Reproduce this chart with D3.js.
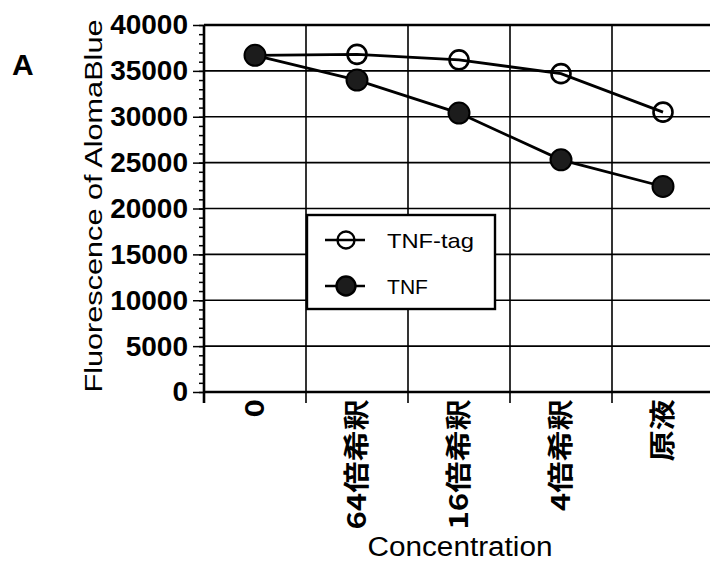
<!DOCTYPE html>
<html>
<head>
<meta charset="utf-8">
<script src="https://cdn.jsdelivr.net/npm/d3@7"></script>
<style>
  body { margin: 0; background: #fff; }
  svg { display: block; }
  text { font-family: "Liberation Sans", Arial, sans-serif; fill: #000; }
  .cjk { font-family: "Noto Sans CJK JP", sans-serif; }
</style>
</head>
<body>
<div class="chart"></div>
<script>
// Fluorescence of AlomaBlue vs concentration, two series
var categories = ["0", "64倍希釈", "16倍希釈", "4倍希釈", "原液"];
var tnfTag = [36700, 36800, 36200, 34700, 30500];
var tnf = [36700, 34000, 30400, 25300, 22400];
var yTicks = [0, 5000, 10000, 15000, 20000, 25000, 30000, 35000, 40000];
var seriesNames = ["TNF-tag", "TNF"];

var svgWidth = 710;
var svgHeight = 563;
var margin = { top: 25, left: 204 };
var width = 510;
var height = 367;

var svg = d3.select(".chart").append("svg")
  .attr("width", svgWidth)
  .attr("height", svgHeight);

var chart = svg.append("g")
  .attr("transform", "translate(" + margin.left + "," + margin.top + ")");

var xScale = d3.scaleBand().domain(categories).range([0, width]).padding(0);
var yScale = d3.scaleLinear().domain([0, 40000]).range([height, 0]);

// horizontal gridlines
chart.selectAll(".hgrid").data(yTicks).enter().append("line")
  .attr("x1", 0).attr("x2", width)
  .attr("y1", function(d) { return yScale(d); })
  .attr("y2", function(d) { return yScale(d); })
  .attr("stroke", "#000")
  .attr("stroke-width", function(d) { return d === 40000 || d === 0 ? 2.6 : 1.7; });

// vertical gridlines at band edges, running a little below the axis as ticks
var edges = categories.map(function(c) { return xScale(c); }).concat([width]);
chart.selectAll(".vgrid").data(edges).enter().append("line")
  .attr("x1", function(d) { return d; })
  .attr("x2", function(d) { return d; })
  .attr("y1", 0)
  .attr("y2", height + 11)
  .attr("stroke", "#000")
  .attr("stroke-width", function(d, i) { return i === 0 ? 2.6 : 1.6; });

// minor y ticks
var minorAxis = d3.axisLeft(yScale).ticks(40).tickSize(5).tickFormat("");
chart.append("g").attr("class", "minor").call(minorAxis);

// major y ticks with labels
var leftAxis = d3.axisLeft(yScale)
  .tickValues(yTicks)
  .tickSize(11)
  .tickPadding(5)
  .tickFormat(d3.format("d"));
var yAxisG = chart.append("g").call(leftAxis);
yAxisG.selectAll("text")
  .style("font-size", "28px")
  .style("font-weight", "bold")
  .style("font-family", "'Liberation Sans', Arial, sans-serif");
chart.selectAll(".domain").remove();
chart.selectAll(".tick line").attr("stroke", "#000").attr("stroke-width", 1.5);

// x axis labels, rotated
var bottomAxis = d3.axisBottom(xScale).tickSize(0).tickPadding(0);
var xAxisG = chart.append("g")
  .attr("transform", "translate(0," + height + ")")
  .call(bottomAxis);
xAxisG.select(".domain").remove();
xAxisG.selectAll("text")
  .attr("class", "cjk")
  .style("font-size", "26px")
  .style("font-weight", "bold")
  .attr("text-anchor", "end")
  .attr("x", -6)
  .attr("y", 0)
  .attr("dy", "0.36em")
  .attr("transform", "rotate(-90) scale(1.2,1)");

// lines
var line = d3.line()
  .x(function(d, i) { return xScale(categories[i]) + xScale.bandwidth() / 2; })
  .y(function(d) { return yScale(d); });

chart.append("path").datum(tnfTag)
  .attr("d", line).attr("fill", "none").attr("stroke", "#000").attr("stroke-width", 2.8);
chart.append("path").datum(tnf)
  .attr("d", line).attr("fill", "none").attr("stroke", "#000").attr("stroke-width", 2.8);

chart.selectAll(".tagdot").data(tnfTag).enter().append("circle")
  .attr("cx", function(d, i) { return xScale(categories[i]) + xScale.bandwidth() / 2; })
  .attr("cy", function(d) { return yScale(d); })
  .attr("r", 9.5)
  .attr("fill", "none")
  .attr("stroke", "#000")
  .attr("stroke-width", 2.6);

chart.selectAll(".tnfdot").data(tnf).enter().append("circle")
  .attr("cx", function(d, i) { return xScale(categories[i]) + xScale.bandwidth() / 2; })
  .attr("cy", function(d) { return yScale(d); })
  .attr("r", 10.5)
  .attr("fill", "#1c1c1c")
  .attr("stroke", "#000")
  .attr("stroke-width", 2);

// legend
var legend = svg.append("g").attr("transform", "translate(307,215)");
legend.append("rect")
  .attr("width", 188).attr("height", 94)
  .attr("fill", "#fff").attr("stroke", "#000").attr("stroke-width", 2.4);

seriesNames.forEach(function(name, i) {
  var row = legend.append("g").attr("transform", "translate(0," + (25 + i * 46) + ")");
  row.append("line")
    .attr("x1", 18).attr("x2", 58)
    .attr("stroke", "#000").attr("stroke-width", 2.6);
  row.append("circle")
    .attr("cx", 39).attr("r", i === 0 ? 8.5 : 9.5)
    .attr("fill", i === 0 ? "none" : "#1c1c1c")
    .attr("stroke", "#000").attr("stroke-width", 2.4);
  row.append("text")
    .attr("x", 80).attr("y", 8)
    .style("font-size", "21px")
    .attr("textLength", i === 0 ? 87 : 41)
    .attr("lengthAdjust", "spacingAndGlyphs")
    .text(name);
});

// axis titles
svg.append("text")
  .attr("transform", "translate(102,206) rotate(-90)")
  .attr("text-anchor", "middle")
  .style("font-size", "23px")
  .attr("textLength", 373)
  .attr("lengthAdjust", "spacingAndGlyphs")
  .text("Fluorescence of AlomaBlue");

svg.append("text")
  .attr("x", 460).attr("y", 556)
  .attr("text-anchor", "middle")
  .style("font-size", "27px")
  .attr("textLength", 185)
  .attr("lengthAdjust", "spacingAndGlyphs")
  .text("Concentration");

// panel letter
svg.append("text")
  .attr("x", 12).attr("y", 75)
  .style("font-size", "30px")
  .style("font-weight", "bold")
  .text("A");
</script>
</body>
</html>
